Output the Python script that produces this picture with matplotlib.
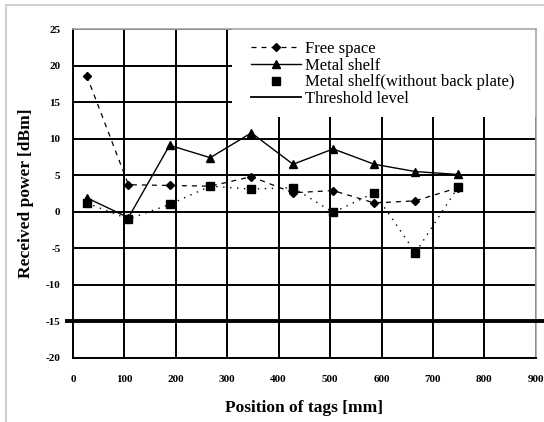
import matplotlib
matplotlib.use("Agg")
import matplotlib.pyplot as plt
from matplotlib.lines import Line2D
from matplotlib.patches import Rectangle

# positions of tags [mm]
positions = [27, 108, 188, 267, 347, 428, 506, 586, 666, 749]
free_space = [18.6, 3.7, 3.6, 3.5, 4.8, 2.6, 2.9, 1.2, 1.5, 3.3]
metal_shelf = [1.9, -0.8, 9.1, 7.4, 10.8, 6.5, 8.6, 6.5, 5.5, 5.1]
metal_no_back = [1.2, -1.0, 1.0, 3.5, 3.1, 3.3, -0.1, 2.6, -5.6, 3.4]
threshold = -15

x_ticks = [0, 100, 200, 300, 400, 500, 600, 700, 800, 900]
y_ticks = [-20, -15, -10, -5, 0, 5, 10, 15, 20, 25]

SERIF = "Liberation Serif"
plt.rcParams["font.family"] = SERIF

fig = plt.figure(figsize=(5.44, 4.22), dpi=100, facecolor="white")
ax = fig.add_axes([0.134, 0.152, 0.851, 0.779])

ax.set_xlim(0, 900)
ax.set_ylim(-20, 25)
ax.set_xticks(x_ticks)
ax.set_yticks(y_ticks)
ax.set_xticklabels([str(v) for v in x_ticks], fontsize=8, fontweight="bold")
ax.set_yticklabels([str(v) for v in y_ticks], fontsize=8, fontweight="bold")
ax.tick_params(axis="x", length=0, pad=12)
ax.tick_params(axis="y", length=0, pad=9)

ax.grid(True, color="black", lw=1.4)
ax.set_axisbelow(True)
for s in ("left", "bottom"):
    ax.spines[s].set_color("black")
    ax.spines[s].set_linewidth(1.4)
for s in ("top", "right"):
    ax.spines[s].set_color("#a8a8a8")
    ax.spines[s].set_linewidth(1.2)

# white block behind the legend hides the grid there
ax.add_patch(Rectangle((0.343, 0.733), 0.66, 0.27, transform=ax.transAxes,
                       facecolor="white", edgecolor="none", zorder=1))

l1, = ax.plot(positions, free_space, color="black", lw=0.9, ls=(0, (4, 4)),
              marker="D", ms=4, zorder=3)
l2, = ax.plot(positions, metal_shelf, color="black", lw=1.0, ls="-",
              marker="^", ms=6, zorder=3)
ax.plot(positions, metal_no_back, color="black", lw=1.0, ls=(0, (1, 4)),
        zorder=3)
l3, = ax.plot(positions, metal_no_back, color="black", lw=0, marker="s",
              ms=6, zorder=4)
ax.plot([-0.013, 1.02], [threshold, threshold], color="black", lw=2.8,
        transform=ax.get_yaxis_transform(), clip_on=False, zorder=3)
l4 = Line2D([], [], color="black", lw=1.3)

leg = ax.legend([l1, l2, l3, l4],
                ["Free space", "Metal shelf", "Metal shelf(without back plate)",
                 "Threshold level"],
                loc="upper left", bbox_to_anchor=(0.37, 0.985), frameon=False,
                prop={"family": SERIF, "size": 12}, handlelength=3.0,
                handletextpad=0.25, labelspacing=0.05, borderaxespad=0)
leg.set_zorder(5)

ax.set_xlabel("Position of tags [mm]", fontsize=12.5, fontweight="bold",
              labelpad=12)
ax.set_ylabel("Received power [dBm]", fontsize=12.5, fontweight="bold",
              labelpad=8)

# light outer frame of the original picture
fig.add_artist(Rectangle((6 / 544, -0.1), 1.2, 1.1 - 5 / 422,
                         transform=fig.transFigure, facecolor="none",
                         edgecolor="#d0d0d0", lw=1.5))

fig.savefig("out.png", dpi=100, facecolor="white")
